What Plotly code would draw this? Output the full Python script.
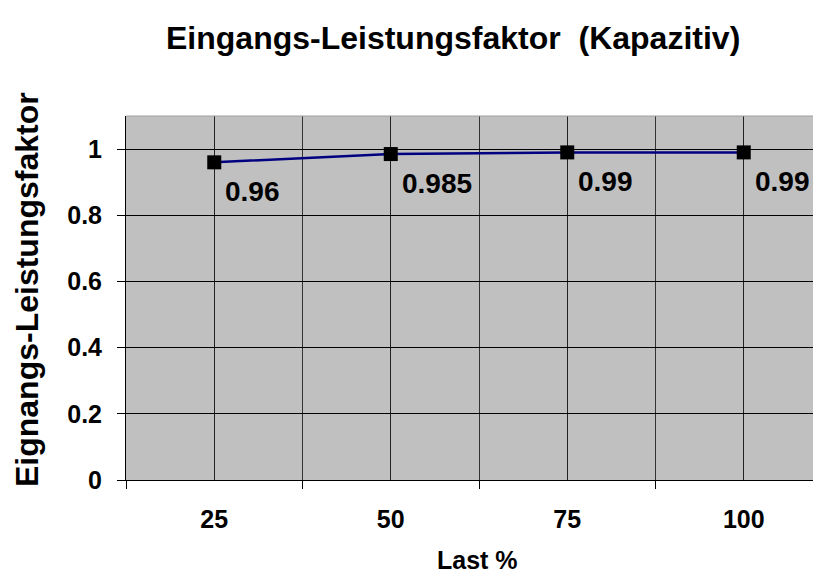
import plotly.graph_objects as go

# Data
categories = ["25", "50", "75", "100"]
power_factor = [0.96, 0.985, 0.99, 0.99]
label_texts = ["0.96", "0.985", "0.99", "0.99"]
y_ticks = [0, 0.2, 0.4, 0.6, 0.8, 1]

title_text = "Eingangs-Leistungsfaktor  (Kapazitiv)"
y_title = "Eignangs-Leistungsfaktor"
x_title = "Last %"

FONT = "Liberation Sans, Arial, sans-serif"
xpos = list(range(len(categories)))

# page body has an 8px margin, so the figure is placed at (8, 8)
OFF = 8
W, H = 821 - OFF, 576 - OFF
L = 126 - OFF        # plot left (reference px 126)
T = 116 - OFF        # plot top (reference px 116)
B = 576 - 480        # plot bottom at reference px 480
pw = W - L
ph = H - T - B
right_val = -0.5 + pw / 176.5


def px_x(xr):
    return (xr - 126) / pw


def px_y(yr):
    return (480 - yr) / ph


fig = go.Figure()
fig.add_trace(go.Scatter(
    x=xpos, y=power_factor, mode="lines+markers",
    line=dict(color="#000080", width=2.5),
    marker=dict(symbol="square", size=14, color="black"),
    hoverinfo="skip", showlegend=False,
))

for xi, yv, t in zip(xpos, power_factor, label_texts):
    fig.add_annotation(
        x=xi, y=yv, xref="x", yref="y", text=t, showarrow=False,
        xanchor="left", yanchor="middle", xshift=9, yshift=-29,
        font=dict(family=FONT, size=28, color="black", weight="bold"),
    )

fig.update_layout(
    width=W, height=H,
    margin=dict(l=L, r=0, t=T, b=B, pad=0),
    paper_bgcolor="white", plot_bgcolor="#C0C0C0",
    font=dict(family=FONT, color="black"),
)

fig.update_xaxes(
    range=[-0.5, right_val], tickmode="array", tickvals=xpos, ticktext=categories,
    ticks="", showgrid=True, gridcolor="#222222", gridwidth=1,
    showline=True, linecolor="black", linewidth=1, zeroline=False,
    tickfont=dict(family=FONT, size=25, color="black", weight="bold"),
    ticklabelstandoff=17,
    minor=dict(tickmode="array", tickvals=[v - 0.5 for v in xpos] + [xpos[-1] + 0.5],
               ticks="outside", ticklen=8, tickcolor="black", tickwidth=1,
               showgrid=True, gridcolor="#333333", gridwidth=1),
    fixedrange=True,
)
fig.update_yaxes(
    range=[0, 1.1], tickmode="array", tickvals=y_ticks,
    ticktext=[("%g" % v) for v in y_ticks],
    ticks="outside", ticklen=8, tickcolor="black", tickwidth=1,
    showgrid=True, gridcolor="black", gridwidth=1,
    showline=True, linecolor="black", linewidth=1, zeroline=False,
    tickfont=dict(family=FONT, size=25, color="black", weight="bold"),
    ticklabelstandoff=10,
    fixedrange=True,
)

# top border (light gray)
fig.add_shape(type="line", xref="paper", yref="paper", x0=0, x1=1, y0=1, y1=1,
              line=dict(color="#A0A0A0", width=1))

# chart title
fig.add_annotation(
    text=title_text, xref="paper", yref="paper", x=px_x(453), y=px_y(38),
    xanchor="center", yanchor="middle", showarrow=False,
    font=dict(family=FONT, size=32, color="black", weight="bold"),
)

# axis titles
fig.add_annotation(
    text=y_title, xref="paper", yref="paper", x=px_x(27), y=px_y(290),
    xanchor="center", yanchor="middle", textangle=-90, showarrow=False,
    font=dict(family=FONT, size=32, color="black", weight="bold"),
)
fig.add_annotation(
    text=x_title, xref="paper", yref="paper", x=px_x(477), y=px_y(560),
    xanchor="center", yanchor="middle", showarrow=False,
    font=dict(family=FONT, size=25, color="black", weight="bold"),
)

fig.write_html("out.html", config={"displayModeBar": False})
